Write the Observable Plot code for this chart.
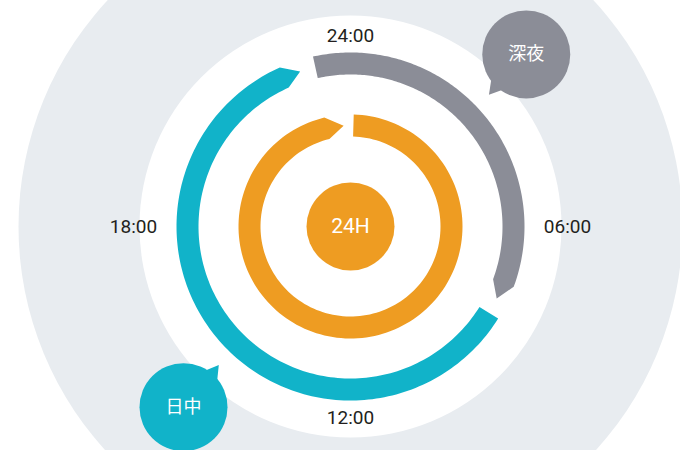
<!DOCTYPE html>
<html><head><meta charset="utf-8">
<script src="https://cdn.jsdelivr.net/npm/d3@7"></script>
<script src="https://cdn.jsdelivr.net/npm/@observablehq/plot@0.6"></script>
<style>
body{margin:0;background:#fff}
g[aria-label="hour-labels"] text{letter-spacing:2px}
g[aria-label="center-label"] text{letter-spacing:1px}
</style>
</head><body><div id="chart"></div>
<script>
// ---- data ----
const arcNames = ["night", "day", "clock"];
const arcStartHour = [-0.83, 8.13, 0.11];
const arcTipHour = [7.75, 22.8, 23.74];
const arcRing = ["outer", "outer", "inner"];
const tickHours = [0, 6, 12, 18];
const tickLabels = ["24:00", "06:00", "12:00", "18:00"];
const bubbleNames = ["night", "day"];
const bubbleHours = [3.04, 14.85];
const bubbleLabels = ["深夜", "日中"];
const centerName = "clock";
const centerLabel = "24H";

// ---- geometry helpers ----
const W = 680, H = 450, CX = 350, CY = 226;
const ringR = {outer: [152, 174], inner: [90, 112]};
const TIP = 17;
const rad = h => h * Math.PI / 12;
const pt = (h, r) => [r * Math.sin(rad(h)), r * Math.cos(rad(h))];

const arcPts = [];
arcNames.forEach((name, i) => {
  const [r0, r1] = ringR[arcRing[i]];
  const rm = (r0 + r1) / 2;
  const tipH = arcTipHour[i];
  const cornerH = tipH - (TIP / rm) * 12 / Math.PI;
  const s = arcStartHour[i];
  const n = 160;
  const poly = [];
  for (let k = 0; k <= n; k++) poly.push(pt(s + (cornerH - s) * k / n, r1));
  poly.push(pt(tipH, rm));
  for (let k = n; k >= 0; k--) poly.push(pt(s + (cornerH - s) * k / n, r0));
  poly.forEach(([x, y]) => arcPts.push({name, x, y}));
});

const BUB_D = 246, BUB_R = 44;
const bubbles = bubbleNames.map((name, i) => {
  const [x, y] = pt(bubbleHours[i], BUB_D);
  return {name, x, y, label: bubbleLabels[i]};
});
const tailPts = [];
bubbles.forEach(b => {
  const dir = Math.atan2(-b.y, -b.x);
  const p = (a, r) => ({name: b.name, x: b.x + r * Math.cos(a), y: b.y + r * Math.sin(a)});
  tailPts.push(p(dir - 0.3, 38), p(dir + 0.05, 55), p(dir + 0.3, 38));
});

const ticks = tickHours.map((h, i) => {
  const r = 191 + 26 * Math.abs(Math.sin(rad(h)));
  const [x, y] = pt(h, r);
  return {x, y, label: tickLabels[i]};
});
const origin = [{x: 0, y: 0, name: centerName, label: centerLabel}];

const chart = Plot.plot({
  width: W, height: H,
  margin: 0,
  x: {domain: [-CX, W - CX], axis: null},
  y: {domain: [-(H - CY), CY], axis: null},
  color: {domain: ["night", "day", "clock"], range: ["#8b8d97", "#11b3c9", "#ee9c22"]},
  style: {background: "#fff"},
  marks: [
    Plot.dot(origin, {x: "x", y: "y", r: 332, fill: "#e8ecf0", stroke: null}),
    Plot.dot(origin, {x: "x", y: "y", r: 211, fill: "#ffffff", stroke: null}),
    Plot.line(arcPts, {x: "x", y: "y", z: "name", fill: "name", stroke: null, curve: "linear"}),
    Plot.dot(origin, {x: "x", y: "y", r: 44, fill: "name", stroke: null}),
    Plot.text(origin, {x: "x", y: "y", text: "label", fill: "#fff", fontSize: 21, fontFamily: "Roboto", fontWeight: 400, ariaLabel: "center-label"}),
    Plot.line(tailPts, {x: "x", y: "y", z: "name", fill: "name", stroke: null}),
    Plot.dot(bubbles, {x: "x", y: "y", r: BUB_R, fill: "name", stroke: null}),
    Plot.text(bubbles, {x: "x", y: "y", text: "label", fill: "#fff", fontSize: 18, fontFamily: "Noto Sans CJK JP"}),
    Plot.text(ticks, {x: "x", y: "y", text: "label", fill: "#231f20", fontSize: 19, fontFamily: "Roboto", fontWeight: 400, ariaLabel: "hour-labels"})
  ]
});
document.getElementById("chart").appendChild(chart);
</script>
</body></html>
